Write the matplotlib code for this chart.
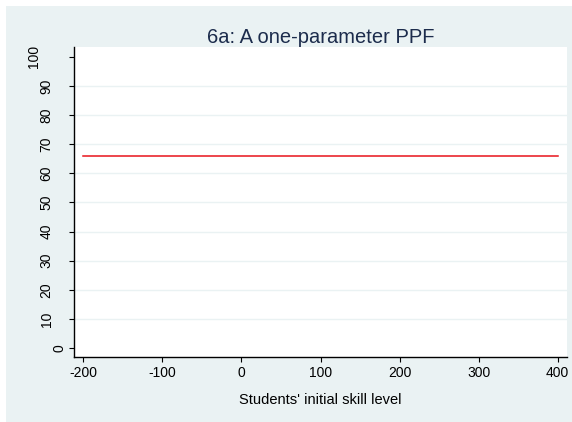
import numpy as np
import matplotlib.pyplot as plt
import matplotlib.transforms as mtransforms
from matplotlib.patches import Rectangle

# data
skill = [-200, 400]
ppf = [66, 66]
xticks = [-200, -100, 0, 100, 200, 300, 400]
yticks = [0, 10, 20, 30, 40, 50, 60, 70, 80, 90, 100]

plt.rcParams['font.family'] = ['Liberation Sans', 'DejaVu Sans']
plt.rcParams['axes.unicode_minus'] = False

bg = '#eaf2f3'
fig = plt.figure(figsize=(5.72, 4.22), dpi=100, facecolor=bg)
# white strip on the left and top edge (stata export margin)
fig.patches.append(Rectangle((0, 0), 6 / 572, 1, transform=fig.transFigure,
                             facecolor='white', edgecolor='none', zorder=-1))
fig.patches.append(Rectangle((0, 1 - 6 / 422), 1, 6 / 422, transform=fig.transFigure,
                             facecolor='white', edgecolor='none', zorder=-1))

ax = fig.add_axes([74 / 572, 1 - 357 / 422, (567 - 74) / 572, (357 - 47) / 422])
ax.set_facecolor('white')

ax.plot(skill, ppf, color='#e8141b', lw=1.1)

ax.set_xlim(-211.8, 411.8)
ax.set_ylim(-3.1, 103.4)
ax.set_xticks(xticks)
ax.set_yticks(yticks)
ax.set_yticklabels([])

for v in yticks[1:-1]:
    ax.axhline(v, color=bg, lw=1, zorder=0)

for s in ['top', 'right']:
    ax.spines[s].set_visible(False)
ax.spines['left'].set_linewidth(1)
ax.spines['bottom'].set_linewidth(1)
ax.tick_params(direction='out', length=3.6, width=0.8, labelsize=10, colors='black')
ax.tick_params(axis='x', pad=3.2)

# rotated y labels, stata pushes the longer ones further left
for v in yticks:
    n = len(str(v))
    off = mtransforms.ScaledTranslation(-(8 + (n - 1) * 12.5) / 100, 0, fig.dpi_scale_trans)
    ax.text(0, v, str(v), transform=ax.get_yaxis_transform() + off,
            rotation=90, ha='right', va='center', fontsize=10, clip_on=False)

ax.set_xlabel("Students' initial skill level", fontsize=10.5, labelpad=9)
ax.set_title('6a: A one-parameter PPF', fontsize=14.5, color='#1c2c4c', pad=3)

fig.savefig('out.png', dpi=100, facecolor=bg)
